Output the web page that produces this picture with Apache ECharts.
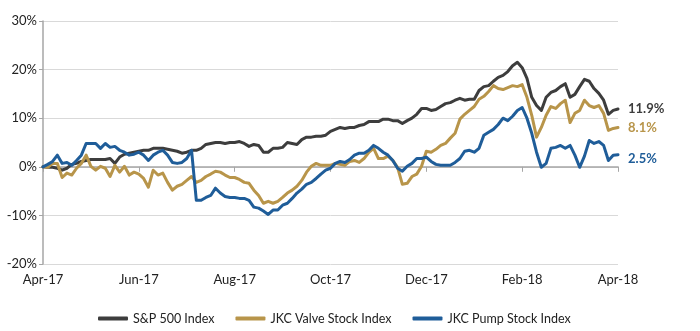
<!DOCTYPE html>
<html>
<head>
<meta charset="utf-8">
<script src="https://cdn.jsdelivr.net/npm/echarts@6/dist/echarts.min.js"></script>
<style>
html,body{margin:0;padding:0;background:#fff;}
#chart{width:700px;height:331px;}
</style>
</head>
<body>
<div id="chart"></div>
<script>
// x-axis tick labels (one every 20 sample points)
var tickLabels = ['Apr-17', 'Jun-17', 'Aug-17', 'Oct-17', 'Dec-17', 'Feb-18', 'Apr-18'];
var seriesNames = ['S&P 500 Index', 'JKC Valve Stock Index', 'JKC Pump Stock Index'];
var endLabels = ['11.9%', '8.1%', '2.5%'];

// cumulative return, % (121 samples, Apr-17 .. Apr-18)
var sp500 = [0, -0.1, -0.1, -0.3, -0.7, -0.3, 0.5, 0.7, 1.1, 1.3,
  1.5, 1.5, 1.5, 1.5, 1.7, 0.7, 2.0, 2.6, 2.8, 3.0,
  3.2, 3.4, 3.4, 3.8, 3.8, 3.8, 3.6, 3.4, 3.2, 2.8,
  3.0, 3.4, 3.4, 3.8, 4.6, 4.8, 5.0, 5.0, 4.8, 5.0,
  5.0, 5.2, 4.8, 4.2, 4.6, 4.4, 3.0, 3.0, 3.8, 3.8,
  4.0, 5.0, 4.8, 4.6, 5.6, 6.1, 6.1, 6.3, 6.3, 6.5,
  7.3, 7.7, 8.1, 7.9, 8.1, 8.1, 8.5, 8.7, 9.3, 9.3,
  9.3, 9.8, 9.8, 9.5, 9.5, 8.9, 9.5, 10.0, 10.8, 12.0,
  12.0, 11.6, 11.8, 12.4, 13.0, 13.2, 13.7, 14.1, 13.7, 13.9,
  13.9, 15.7, 16.5, 16.7, 17.6, 18.4, 18.8, 19.6, 20.8, 21.5,
  20.4, 18.2, 14.3, 12.6, 11.6, 14.3, 15.3, 15.7, 16.5, 17.1,
  14.3, 14.9, 16.5, 18.0, 17.6, 16.1, 15.1, 13.7, 10.8, 11.6,
  11.9];

var valve = [0, -0.1, 0.7, 0.7, -2.2, -1.3, -1.7, -0.3, 0.7, 2.4,
  0.1, -0.7, 0.1, -0.3, -2.0, 0.3, -1.1, 0.1, -1.7, -1.1,
  -1.5, -2.4, -4.2, -0.7, -1.7, -1.3, -3.2, -4.8, -4.0, -3.6,
  -2.8, -2.0, -3.2, -2.8, -2.0, -1.5, -0.9, -1.1, -1.7, -2.2,
  -2.2, -2.6, -3.2, -3.4, -4.8, -5.9, -7.5, -7.1, -7.5, -7.1,
  -6.3, -5.4, -4.8, -4.0, -2.8, -1.1, 0.1, 0.7, 0.3, 0.3,
  0.3, 0.7, 0.5, 0.3, 1.1, 1.3, 0.9, 1.7, 3.0, 3.8,
  1.7, 1.7, 2.2, 1.3, -0.1, -3.6, -3.4, -2.0, -1.5, 0.1,
  3.2, 3.0, 3.6, 4.4, 4.8, 5.9, 6.9, 9.8, 10.8, 11.6,
  12.4, 13.9, 14.5, 15.5, 16.7, 16.1, 15.9, 16.3, 16.7, 16.5,
  16.9, 14.3, 10.6, 6.1, 8.1, 10.6, 12.4, 12.0, 13.0, 13.7,
  9.1, 11.0, 11.6, 13.7, 12.6, 12.2, 12.6, 11.0, 7.5, 7.9,
  8.1];

var pump = [0, 0.5, 1.1, 2.4, 0.7, 0.9, 0.3, 1.3, 2.4, 4.8,
  4.8, 4.8, 3.8, 4.8, 4.0, 4.2, 3.4, 3.0, 2.4, 2.6,
  3.0, 2.4, 1.3, 2.4, 3.0, 3.4, 2.4, 0.9, 0.7, 0.9,
  1.7, 3.4, -6.9, -6.9, -6.3, -5.9, -4.4, -5.4, -6.1, -6.3,
  -6.3, -6.5, -6.5, -6.9, -8.3, -8.5, -9.1, -9.8, -8.9, -8.9,
  -7.9, -7.5, -6.5, -5.4, -4.6, -3.6, -3.2, -2.4, -1.5, -0.7,
  -0.3, 0.7, 1.1, 0.9, 1.5, 2.4, 2.8, 2.8, 3.4, 4.4,
  3.8, 3.0, 2.4, 1.3, -0.3, -0.9, 0.1, 0.7, 1.7, 1.7,
  2.0, 1.1, 0.5, 0.3, 0.3, 0.3, 0.9, 1.7, 3.2, 3.4,
  3.0, 3.8, 6.5, 7.1, 7.7, 8.7, 10.0, 9.5, 10.4, 11.6,
  12.2, 10.0, 6.9, 3.0, -0.1, 0.7, 3.8, 4.0, 4.4, 3.8,
  4.4, 2.4, -0.1, 2.2, 5.4, 4.8, 5.2, 4.4, 1.3, 2.4,
  2.5];

var colors = ['#3d3d3d', '#b8954a', '#1f5d99'];

var categories = [];
for (var i = 0; i < sp500.length; i++) {
  categories.push(i % 20 === 0 ? tickLabels[i / 20] : '');
}

var font = 'Lato, "Open Sans", sans-serif';
var chart = echarts.init(document.getElementById('chart'), null, {renderer: 'canvas'});

function mk(idx, data, offsetY) {
  return {
    name: seriesNames[idx],
    type: 'line',
    data: data,
    showSymbol: false,
    symbol: 'none',
    smooth: false,
    lineStyle: {width: 3, color: colors[idx], cap: 'round', join: 'round'},
    itemStyle: {color: colors[idx]},
    emphasis: {disabled: true},
    animation: false,
    endLabel: {
      show: true,
      formatter: function () { return endLabels[idx]; },
      color: colors[idx],
      fontFamily: font,
      fontSize: 13,
      fontWeight: 'bold',
      distance: 10,
      offset: [0, offsetY]
    }
  };
}

chart.setOption({
  animation: false,
  color: colors,
  grid: {left: 43, right: 82, top: 21, bottom: 67, containLabel: false},
  legend: {
    left: 98,
    top: 312,
    padding: 0,
    itemWidth: 30,
    itemHeight: 4,
    itemGap: 21,
    icon: 'roundRect',
    textStyle: {fontFamily: font, fontSize: 12.5, color: '#222'},
    data: seriesNames.map(function (n, k) {
      return {name: n, itemStyle: {color: colors[k]}, lineStyle: {width: 0}};
    })
  },
  xAxis: {
    type: 'category',
    data: categories,
    boundaryGap: false,
    axisLine: {show: true, lineStyle: {color: '#a6a6a6', width: 1.5}},
    axisTick: {show: true, interval: 19, length: 5, lineStyle: {color: '#a6a6a6'}},
    axisLabel: {interval: 19, color: '#222', fontFamily: font, fontSize: 13, margin: 9},
    splitLine: {show: false}
  },
  yAxis: {
    type: 'value',
    min: -20,
    max: 30,
    interval: 10,
    axisLine: {show: true, lineStyle: {color: '#a6a6a6', width: 1.5}},
    axisTick: {show: true, length: 4, lineStyle: {color: '#a6a6a6'}},
    axisLabel: {formatter: '{value}%', color: '#222', fontFamily: font, fontSize: 13, margin: 6},
    splitLine: {show: true, lineStyle: {color: '#d9d9d9', width: 1}}
  },
  series: [mk(0, sp500, 0), mk(1, valve, 0), mk(2, pump, 4)]
});
</script>
</body>
</html>
